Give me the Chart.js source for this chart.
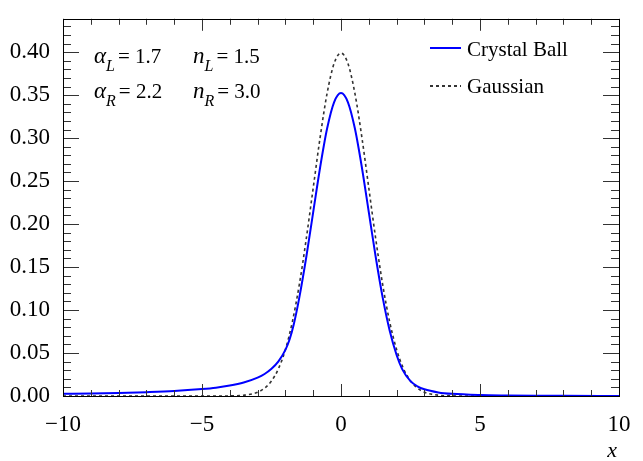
<!DOCTYPE html>
<html>
<head>
<meta charset="utf-8">
<script src="https://cdn.jsdelivr.net/npm/chart.js@4.4.1/dist/chart.umd.min.js"></script>
</head>
<body style="margin:0">
<div style="width:643px;height:461px"><canvas id="c" width="643" height="461"></canvas></div>
<script>
// Crystal Ball curve
const cbX = [-10, -9, -8, -7, -6, -5, -4.5, -4, -3.5, -3, -2.75, -2.5, -2.25, -2, -1.85, -1.7, -1.5, -1.25, -1, -0.75, -0.5, -0.25, 0,
	0.25, 0.5, 0.75, 1, 1.25, 1.5, 1.75, 2, 2.2, 2.5, 2.75, 3, 3.5, 4, 5, 6, 7, 8, 10];
const cbY = [0.0025, 0.0029, 0.0036, 0.0045, 0.0058, 0.0081, 0.0097, 0.0121, 0.0157, 0.0214, 0.0256, 0.0316, 0.0402, 0.0536, 0.0657, 0.0831, 0.1144, 0.1614, 0.2138, 0.2661, 0.3111, 0.3417, 0.3525,
	0.3417, 0.3111, 0.2661, 0.2138, 0.1614, 0.1144, 0.0762, 0.0477, 0.0313, 0.0173, 0.0113, 0.0078, 0.0042, 0.0025, 0.0011, 0.0006, 0.0003, 0.0002, 0.0001];

// Gaussian curve
const gausX = [-10, -5, -4, -3.5, -3, -2.75, -2.5, -2.25, -2, -1.75, -1.5, -1.25, -1, -0.75, -0.5, -0.25, 0,
	0.25, 0.5, 0.75, 1, 1.25, 1.5, 1.75, 2, 2.25, 2.5, 2.75, 3, 3.5, 4, 5, 10];
const gausY = [0, 0, 0.0001, 0.0009, 0.0044, 0.0091, 0.0175, 0.0317, 0.0540, 0.0863, 0.1295, 0.1827, 0.2420, 0.3011, 0.3521, 0.3867, 0.3989,
	0.3867, 0.3521, 0.3011, 0.2420, 0.1827, 0.1295, 0.0863, 0.0540, 0.0317, 0.0175, 0.0091, 0.0044, 0.0009, 0.0001, 0, 0];

const seriesNames = ["Crystal Ball", "Gaussian"];
const xMin = -10, xMax = 10, yMin = 0, yMax = 0.4388;

const fam = '"Liberation Serif"';

function toPoints(xs, ys) {
	let pts = [];
	xs.forEach(function(x, i){ pts.push({x: x, y: ys[i]}); });
	return pts;
}

// frame, inner ticks, legend, parameter text
const rootStyle = {
	id: "rootStyle",
	afterDraw(chart) {
		const ctx = chart.ctx;
		const a = chart.chartArea;
		const xs = chart.scales.x, ys = chart.scales.y;
		ctx.save();

		// ticks on all four sides
		ctx.strokeStyle = "#333";
		ctx.lineWidth = 1;
		ctx.beginPath();
		for (let v = xMin; v <= xMax; v += 1) {
			const px = Math.round(xs.getPixelForValue(v)) + 0.5;
			const len = (v % 5 === 0) ? 12 : 6;
			ctx.moveTo(px, a.bottom); ctx.lineTo(px, a.bottom - len);
			ctx.moveTo(px, a.top); ctx.lineTo(px, a.top + len);
		}
		for (let k = 0; k <= 43; k++) {
			const v = k * 0.01;
			const py = Math.round(ys.getPixelForValue(v)) + 0.5;
			const len = (k % 5 === 0) ? 16 : 8;
			ctx.moveTo(a.left, py); ctx.lineTo(a.left + len, py);
			ctx.moveTo(a.right, py); ctx.lineTo(a.right - len, py);
		}
		ctx.stroke();

		// frame
		ctx.strokeStyle = "#000";
		ctx.strokeRect(Math.round(a.left) + 0.5, Math.round(a.top) + 0.5, Math.round(a.right - a.left), Math.round(a.bottom - a.top));

		// legend
		ctx.lineWidth = 2;
		ctx.strokeStyle = "#0000ff";
		ctx.beginPath(); ctx.moveTo(430, 48); ctx.lineTo(461, 48); ctx.stroke();
		ctx.strokeStyle = "#333";
		ctx.setLineDash([3, 3]);
		ctx.beginPath(); ctx.moveTo(430, 86); ctx.lineTo(461, 86); ctx.stroke();
		ctx.setLineDash([]);
		ctx.fillStyle = "#000";
		ctx.font = "21px " + fam;
		ctx.textBaseline = "alphabetic";
		ctx.textAlign = "left";
		ctx.fillText(seriesNames[0], 467, 56);
		ctx.fillText(seriesNames[1], 467, 93);

		// parameter text
		function param(x, y, sym, sub, val) {
			ctx.font = "italic 23px " + fam;
			ctx.fillText(sym, x, y);
			let w = ctx.measureText(sym).width;
			ctx.font = "italic 16px " + fam;
			ctx.fillText(sub, x + w, y + 8);
			w += ctx.measureText(sub).width + 3;
			ctx.font = "21px " + fam;
			ctx.fillText(val, x + w, y);
		}
		param(94, 63, "\u03b1", "L", "= 1.7");
		param(193, 63, "n", "L", "= 1.5");
		param(94, 98, "\u03b1", "R", "= 2.2");
		param(193, 98, "n", "R", "= 3.0");

		// axis title
		ctx.font = "italic 22px " + fam;
		ctx.textAlign = "right";
		ctx.fillText("x", 617, 457);

		ctx.restore();
	}
};

new Chart(document.getElementById("c"), {
	type: "line",
	data: {
		datasets: [{
			label: seriesNames[0],
			data: toPoints(cbX, cbY),
			borderColor: "#0000ff",
			borderWidth: 2,
			pointRadius: 0,
			fill: false,
			cubicInterpolationMode: "monotone"
		}, {
			label: seriesNames[1],
			data: toPoints(gausX, gausY),
			borderColor: "#333",
			borderWidth: 1.6,
			borderDash: [3, 3],
			pointRadius: 0,
			fill: false,
			cubicInterpolationMode: "monotone"
		}]
	},
	options: {
		responsive: false,
		animation: false,
		layout: { padding: { top: 7, right: 24, left: 0, bottom: 0 } },
		plugins: {
			legend: { display: false },
			tooltip: { enabled: false }
		},
		scales: {
			x: {
				type: "linear",
				min: xMin,
				max: xMax,
				grid: { display: false },
				border: { display: false },
				afterFit: function(s){ s.height = 65; },
				ticks: {
					stepSize: 5,
					color: "#000",
					padding: 7,
					maxRotation: 0,
					font: { family: fam, size: 23 },
					callback: function(v){ return v < 0 ? "\u2212" + Math.abs(v) : String(v); }
				}
			},
			y: {
				min: yMin,
				max: yMax,
				grid: { display: false },
				border: { display: false },
				afterFit: function(s){ s.width = 63; },
				ticks: {
					stepSize: 0.05,
					includeBounds: false,
					color: "#000",
					padding: 5,
					font: { family: fam, size: 23 },
					callback: function(v){ return v.toFixed(2); }
				}
			}
		}
	},
	plugins: [rootStyle]
});
</script>
</body>
</html>
